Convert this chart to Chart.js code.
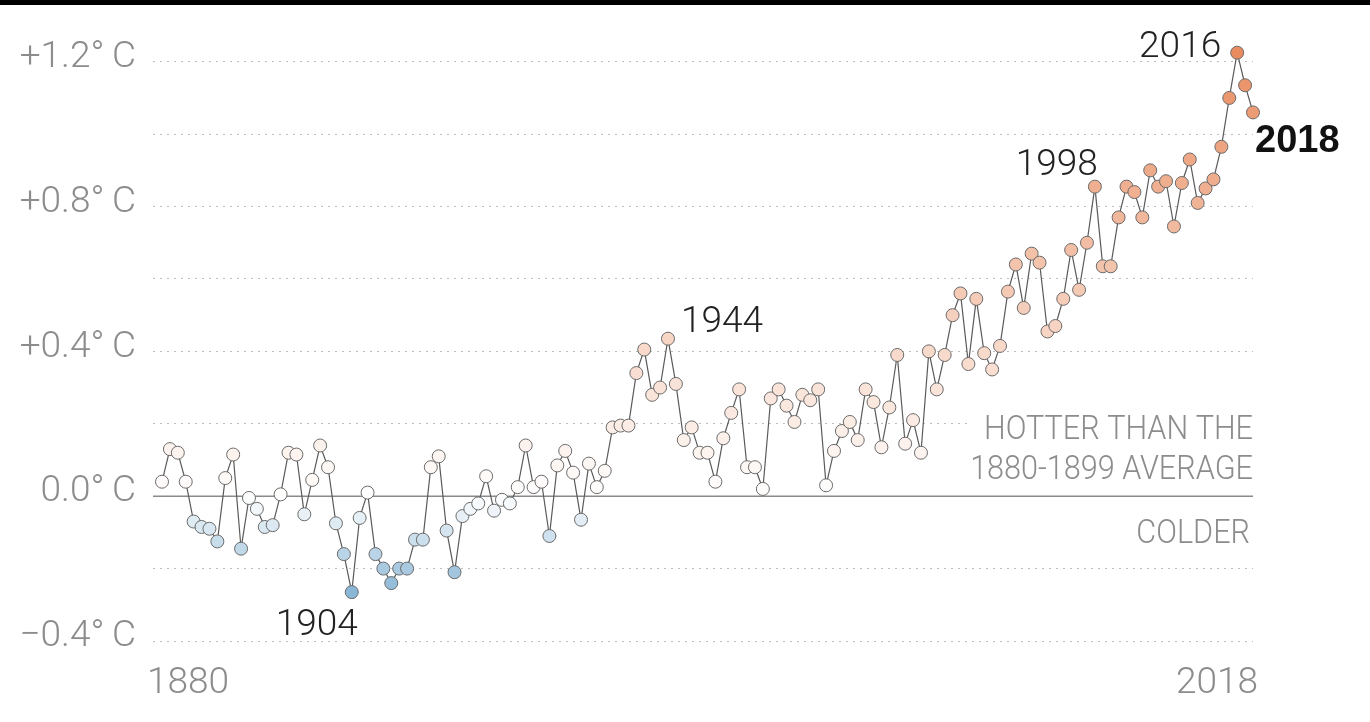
<!DOCTYPE html>
<html>
<head>
<meta charset="utf-8">
<script src="https://cdn.jsdelivr.net/npm/chart.js@4.4.0/dist/chart.umd.min.js"></script>
<style>
  html, body { margin: 0; padding: 0; background: #fff; }
  #wrap { position: relative; width: 1370px; height: 722px; }
  #topbar { position: absolute; left: 0; top: 0; width: 1370px; height: 5px; background: #000; }
  canvas { display: block; }
</style>
</head>
<body>
<div id="wrap">
  <canvas id="chart" width="1370" height="722"></canvas>
  <div id="topbar"></div>
</div>
<script>
// Data: annual temperature anomaly vs 1880-1899 average
const startYear = 1880;
const anomalies = [
  0.04, 0.13, 0.12, 0.04, -0.07, -0.085, -0.09, -0.125, 0.05, 0.115,
  -0.145, -0.005, -0.035, -0.085, -0.08, 0.005, 0.12, 0.115, -0.05, 0.045,
  0.14, 0.08, -0.075, -0.16, -0.265, -0.06, 0.01, -0.16, -0.20, -0.24,
  -0.20, -0.20, -0.12, -0.12, 0.08, 0.11, -0.095, -0.21, -0.055, -0.035,
  -0.02, 0.055, -0.04, -0.01, -0.02, 0.025, 0.14, 0.025, 0.04, -0.11,
  0.085, 0.125, 0.065, -0.065, 0.09, 0.025, 0.07, 0.19, 0.195, 0.195,
  0.34, 0.405, 0.28, 0.30, 0.435, 0.31, 0.155, 0.19, 0.12, 0.12,
  0.04, 0.16, 0.23, 0.295, 0.08, 0.08, 0.02, 0.27, 0.295, 0.25,
  0.205, 0.28, 0.265, 0.295, 0.03, 0.125, 0.18, 0.205, 0.155, 0.295,
  0.26, 0.135, 0.245, 0.39, 0.145, 0.21, 0.12, 0.40, 0.295, 0.39,
  0.50, 0.56, 0.365, 0.545, 0.395, 0.35, 0.415, 0.565, 0.64, 0.52,
  0.67, 0.645, 0.455, 0.47, 0.545, 0.68, 0.57, 0.70, 0.855, 0.635,
  0.635, 0.77, 0.855, 0.84, 0.77, 0.90, 0.855, 0.87, 0.745, 0.865,
  0.93, 0.81, 0.85, 0.875, 0.965, 1.10, 1.225, 1.135, 1.06,
];
const years = anomalies.map((_, i) => startYear + i);
const xTickYears = [1880, 2018];
const yGridValues = [-0.4, -0.2, 0, 0.2, 0.4, 0.6, 0.8, 1.0, 1.2];
const yLabelValues = [-0.4, 0, 0.4, 0.8, 1.2];
const yearLabels = [
  { year: 2016, text: "2016", dx: -16, dy: 4, align: "right", bold: false },
  { year: 1998, text: "1998", dx: 3, dy: -12, align: "right", bold: false },
  { year: 1944, text: "1944", dx: 13, dy: -7, align: "left", bold: false },
  { year: 1904, text: "1904", dx: -76, dy: 43, align: "left", bold: false },
  { year: 2018, text: "2018", dx: 2, dy: 40, align: "left", bold: true },
];
const hotterLines = ["HOTTER THAN THE", "1880-1899 AVERAGE"];
const colderLine = "COLDER";

const points = years.map((year, i) => ({ x: year, y: anomalies[i] }));

// Diverging fill: blue below zero, salmon above
function pointColor(v) {
  let r, g, b;
  if (v >= 0) {
    const t = Math.min(v / 1.25, 1);
    r = 255 - t * 23; g = 255 - t * 117; b = 255 - t * 163;
  } else {
    const t = Math.min(-v / 0.27, 1);
    r = 255 - t * 118; g = 255 - t * 73; b = 255 - t * 42;
  }
  return `rgb(${Math.round(r)},${Math.round(g)},${Math.round(b)})`;
}

function formatTemp(v) {
  const r = Math.round(v * 10) / 10;
  if (r > 0) return "+" + r.toFixed(1) + "°\u2009C";
  if (r < 0) return "−" + Math.abs(r).toFixed(1) + "°\u2009C";
  return "0.0°\u2009C";
}

const tickFont = { family: "Roboto, 'Liberation Sans', sans-serif", size: 37, weight: 300 };
const grey = "#8c8c8c";

// condensed text, drawn right aligned
function narrowText(ctx, text, x, y) {
  ctx.save();
  ctx.translate(x, y);
  ctx.scale(0.9, 1);
  ctx.fillText(text, 0, 0);
  ctx.restore();
}

const annotations = {
  id: "annotations",
  beforeDatasetsDraw(chart) {
    const { ctx, chartArea, scales: { x, y } } = chart;
    const y0 = y.getPixelForValue(0);
    ctx.save();
    // zero line
    ctx.strokeStyle = "#8a8a8a";
    ctx.lineWidth = 1.5;
    ctx.beginPath();
    ctx.moveTo(chartArea.left, y0);
    ctx.lineTo(chartArea.right, y0);
    ctx.stroke();

    // hotter / colder text
    ctx.font = "300 34px Roboto, sans-serif";
    ctx.textAlign = "right";
    ctx.textBaseline = "alphabetic";
    const w = ctx.measureText(hotterLines[0]).width * 0.9;
    ctx.fillStyle = "#fff";
    ctx.fillRect(chartArea.right - w - 14, y.getPixelForValue(0.2) - 6, w + 16, 12);
    ctx.fillStyle = grey;
    narrowText(ctx, hotterLines[0], chartArea.right, y0 - 57);
    narrowText(ctx, hotterLines[1], chartArea.right, y0 - 17);
    narrowText(ctx, colderLine, chartArea.right - 3, y0 + 47);

    // x axis year labels
    ctx.font = "300 37px Roboto, sans-serif";
    const base = chartArea.bottom + 52;
    ctx.textAlign = "left";
    ctx.fillText(String(xTickYears[0]), x.getPixelForValue(xTickYears[0]) - 15, base);
    ctx.textAlign = "right";
    ctx.fillText(String(xTickYears[1]), x.getPixelForValue(xTickYears[1]) + 5, base);
    ctx.restore();
  },
  afterDatasetsDraw(chart) {
    const { ctx } = chart;
    const meta = chart.getDatasetMeta(0);
    ctx.save();
    ctx.textBaseline = "alphabetic";
    yearLabels.forEach((lab) => {
      const el = meta.data[lab.year - startYear];
      ctx.font = lab.bold
        ? "bold 38px 'Liberation Sans', Roboto, sans-serif"
        : "300 37px Roboto, 'Liberation Sans', sans-serif";
      ctx.fillStyle = lab.bold ? "#111" : "#222";
      ctx.textAlign = lab.align;
      ctx.fillText(lab.text, el.x + lab.dx, el.y + lab.dy);
    });
    ctx.restore();
  },
};

new Chart(document.getElementById("chart"), {
  type: "line",
  data: {
    datasets: [
      {
        data: points,
        borderColor: "#5a5a5a",
        borderWidth: 1.2,
        pointRadius: 6.5,
        pointBorderWidth: 1,
        pointBorderColor: "#6a6a6a",
        pointBackgroundColor: (ctx) => pointColor(ctx.raw ? ctx.raw.y : 0),
        fill: false,
        tension: 0,
        clip: false,
      },
    ],
  },
  options: {
    responsive: false,
    animation: false,
    layout: { padding: { top: 40, right: 117, bottom: 0, left: 0 } },
    plugins: { legend: { display: false }, tooltip: { enabled: false } },
    scales: {
      x: {
        type: "linear",
        min: 1878.86,
        max: 2018,
        grid: { display: false, drawTicks: false },
        border: { display: false },
        afterFit: (axis) => {
          axis.height = 81;
        },
        ticks: { display: false },
      },
      y: {
        min: -0.4,
        max: 1.26,
        grid: {
          drawTicks: false,
          color: (ctx) => (ctx.tick && Math.abs(ctx.tick.value) < 1e-9 ? "rgba(0,0,0,0)" : "#bdbdbd"),
          lineWidth: 1,
        },
        border: { display: false, dash: [2, 5] },
        afterBuildTicks: (axis) => {
          axis.ticks = yGridValues.map((v) => ({ value: v }));
        },
        afterFit: (axis) => {
          axis.width = 153;
        },
        ticks: {
          padding: 17,
          labelOffset: -4,
          color: grey,
          font: tickFont,
          callback: (v) => (yLabelValues.some((t) => Math.abs(t - v) < 1e-6) ? formatTemp(v) : ""),
        },
      },
    },
  },
  plugins: [annotations],
});
</script>
</body>
</html>
